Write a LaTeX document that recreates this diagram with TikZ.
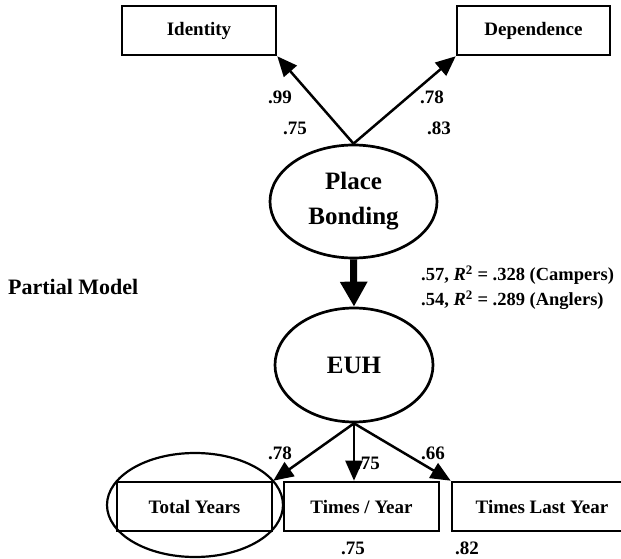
\documentclass[tikz,border=0pt]{standalone}
\usepackage{fontspec}
\setmainfont{Liberation Serif}
\usetikzlibrary{shapes.geometric,arrows.meta}
\begin{document}
\begin{tikzpicture}[x=1pt,y=-1pt,
  box/.style={draw, line width=2.6pt, rectangle, minimum height=49pt, inner sep=0pt,
    font=\fontsize{19}{22}\selectfont\bfseries},
  latent/.style={draw, ellipse, line width=2.7pt, inner sep=0pt, align=center,
    font=\fontsize{25}{35}\selectfont\bfseries},
  coef/.style={inner sep=0pt, font=\fontsize{19}{22}\selectfont\bfseries},
  load/.style={line width=2.5pt, -{Triangle[length=20pt,width=17pt]}},
  bigpath/.style={line width=7pt, -{Triangle[length=25pt,width=26pt]}},
]
\useasboundingbox (0,0) rectangle (621,559);

% indicators of place bonding
\node[box, minimum width=154pt] (ident) at (199,30.5) {Identity};
\node[box, minimum width=153pt] (dep) at (533.5,30.5) {Dependence};

% latent constructs
\node[latent, minimum width=167pt, minimum height=113pt] (pb) at (353.5,201.5) {Place\\Bonding};
\node[latent, minimum width=158pt, minimum height=114pt] (euh) at (354,365) {EUH};

% indicators of EUH
\node[box, minimum width=155pt] (total) at (194.5,506.5) {Total Years};
\node[box, minimum width=155pt] (times) at (361.5,506.5) {Times / Year};
\node[box, minimum width=180pt] (last) at (542,506.5) {Times Last Year};
\node[draw, ellipse, line width=2.2pt, minimum width=176pt, minimum height=104pt] (ring) at (195,505) {};

% loadings
\draw[load] (pb.north) -- (ident.south east);
\draw[load] (pb.north) -- (dep.south west);
\draw[bigpath] (pb.south) -- (euh.north);

\node[coef, anchor=west] (l2) at (356,463) {.75};
\draw[load] (euh.south) -- (euh.south |- times.north);
\draw[load] (euh.south) -- (total.north east);
\draw[load] (euh.south) -- (last.north west);

% coefficients
\node[coef] (c99) at (280,97) {.99};
\node[coef] (c75) at (295,128) {.75};
\node[coef] (c78) at (432,97) {.78};
\node[coef] (c83) at (439,128) {.83};
\node[coef] (l1) at (280,453) {.78};
\node[coef] (l3) at (433,453) {.66};
\node[coef] (e2) at (353,548) {.75};
\node[coef] (e3) at (467,548) {.82};

\node[anchor=west, inner sep=0pt, font=\fontsize{22}{26}\selectfont\bfseries] (title) at (8,287) {Partial Model};
\node[anchor=west, inner sep=0pt, align=left, font=\fontsize{18.5}{25}\selectfont\bfseries] (rsq) at (421,287.5)
  {.57, \textit{R}\textsuperscript{2} = .328 (Campers)\\.54, \textit{R}\textsuperscript{2} = .289 (Anglers)};
\end{tikzpicture}
\end{document}
